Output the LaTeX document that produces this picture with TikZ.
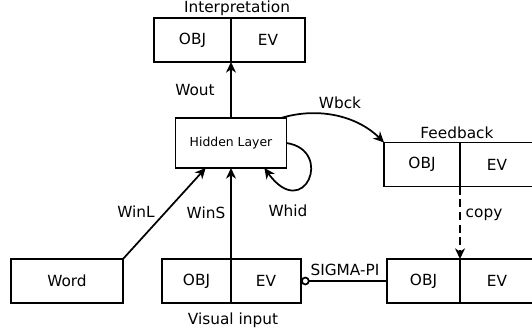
\documentclass[tikz,border=0pt]{standalone}
\usepackage{fontspec}
\setmainfont{DejaVu Sans}
\usetikzlibrary{arrows.meta,positioning}

\begin{document}
\begin{tikzpicture}[x=0.75pt, y=-0.75pt,
        cell/.style={draw, line width=1.2pt, outer sep=0pt, minimum height=33pt, inner sep=0pt,
                    font=\fontsize{11.5}{13}\selectfont},
        hidbox/.style={draw, line width=1.2pt, outer sep=0pt, minimum width=83pt, minimum height=37.5pt,
                    font=\fontsize{9.3}{11}\selectfont},
        lbl/.style={font=\fontsize{11.5}{13}\selectfont, inner sep=1pt},
        arr/.style={-{Stealth[length=8pt, width=7.5pt, inset=2.5pt]}, line width=1.3pt}
]
    \useasboundingbox (0,0) rectangle (532,335);
    % output layer
    \node[cell, minimum width=57.75pt] (iobj) at (192.5,40) {OBJ};
    \node[cell, minimum width=55.5pt, right=0pt of iobj] (iev) {EV};
    \node[lbl] (tint) at (237,8) {Interpretation};
    % hidden layer
    \node[hidbox] (hid) at (231,143) {Hidden Layer};
    % feedback copy
    \node[cell, minimum width=57pt] (fobj) at (422,164.5) {OBJ};
    \node[cell, minimum width=55.5pt, right=0pt of fobj] (fev) {EV};
    \node[lbl] (tfb) at (457,133) {Feedback};
    % inputs
    \node[cell, minimum width=84pt] (wrd) at (67,281) {Word};
    \node[cell, minimum width=51.75pt] (vobj) at (196.5,281) {OBJ};
    \node[cell, minimum width=52.5pt, right=0pt of vobj] (vev) {EV};
    \node[lbl] (tvis) at (233,320) {Visual input};
    \node[cell, minimum width=54.75pt] (bobj) at (423.5,281) {OBJ};
    \node[cell, minimum width=55.5pt, right=0pt of bobj] (bev) {EV};

    % weights
    \draw[arr] (hid.north) -- (hid.north |- iobj.south);
    \node[lbl] (lwout) at (195,90) {Wout};
    \draw[arr] (hid.north east) ++(-4pt,0) .. controls +(40,-12) and +(-25,-25) .. (fobj.north west);
    \node[lbl] (lwbck) at (340,103) {Wbck};
    \draw[arr] (hid.east) .. controls +(48,7) and +(40,55) .. ([xshift=25pt]hid.south);
    \node[lbl] (lwhid) at (288,211) {Whid};
    \draw[arr] (wrd.north east) -- ([xshift=-19pt]hid.south);
    \node[lbl] (lwinl) at (136,212) {WinL};
    \draw[arr] (vobj.north east) -- (vobj.north east |- hid.south);
    \node[lbl] (lwins) at (206,213) {WinS};
    \draw[arr, dash pattern=on 6pt off 3.5pt] (fobj.south east) -- (bobj.north east);
    \node[lbl] (lcopy) at (484,215) {copy};
    \draw[line width=1.3pt, {Circle[open, length=6.5pt]}-] (vev.east) -- (bobj.west);
    \node[lbl] (lsig) at (345,270) {SIGMA-PI};
\end{tikzpicture}
\end{document}
